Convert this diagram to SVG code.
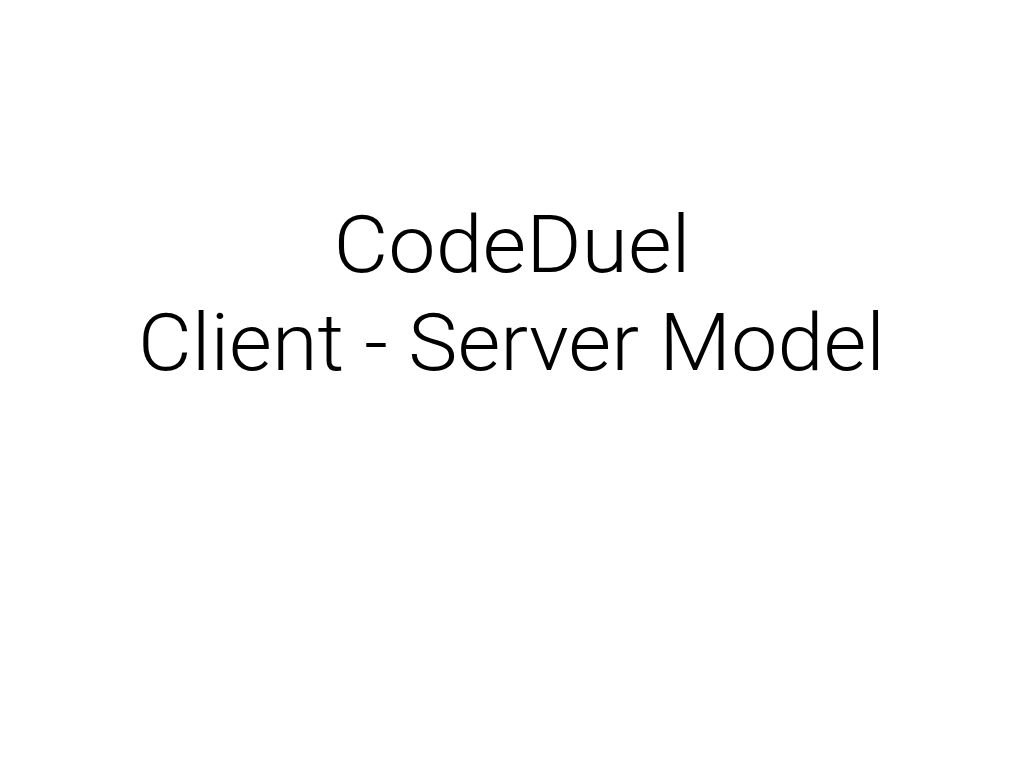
<svg xmlns="http://www.w3.org/2000/svg" width="1024" height="768" viewBox="0 0 1024 768">
<style>
.t{font-family:Roboto,"Liberation Sans",Arial,sans-serif;font-weight:300;font-size:80px;fill:#000;text-anchor:middle}
</style>
<rect width="1024" height="768" fill="#fff"/>
<g id="title">
<text class="t" x="512" y="272" textLength="357" lengthAdjust="spacingAndGlyphs">CodeDuel</text>
<text class="t" x="511.5" y="370" textLength="747" lengthAdjust="spacingAndGlyphs">Client - Server Model</text>
</g>
</svg>
